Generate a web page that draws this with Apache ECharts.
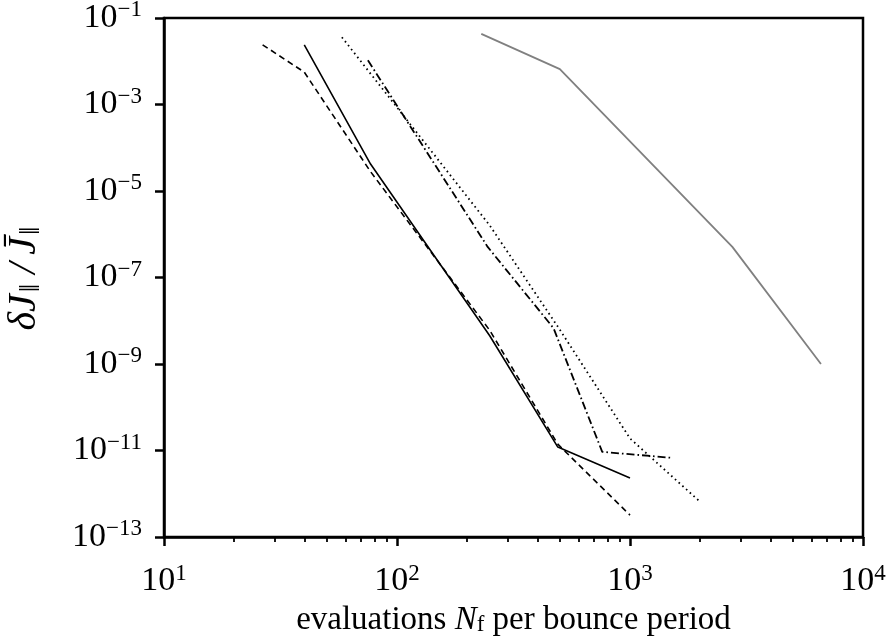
<!DOCTYPE html>
<html>
<head>
<meta charset="utf-8">
<script src="https://cdn.jsdelivr.net/npm/echarts@6/dist/echarts.min.js"></script>
<style>
	html,body{margin:0;padding:0;background:#fff;}
	#chart{width:886px;height:643px;}
</style>
</head>
<body>
<div id="chart"></div>
<script>
	// data (x = evaluations, y = relative error)
	const solidX = [40, 77, 250, 490, 1000];
	const solidY = [2.4e-2, 4.2e-5, 4.5e-9, 1.2e-11, 2.3e-12];
	const dashedX = [26.5, 40, 77, 250, 490, 1000];
	const dashedY = [2.4e-2, 5.6e-3, 2.8e-5, 6e-9, 1.4e-11, 3.2e-13];
	const dashDotX = [75, 245, 470, 760, 1500];
	const dashDotY = [1.05e-2, 5.1e-7, 6.7e-9, 9.3e-12, 6.8e-12];
	const dottedX = [58, 250, 500, 1000, 2000];
	const dottedY = [3.6e-2, 1.6e-6, 6.2e-9, 1.9e-11, 6.5e-13];
	const grayX = [230, 500, 2750, 6600];
	const grayY = [4.3e-2, 6.6e-3, 5.1e-7, 1.0e-9];
	const xMinorTicks = [20,30,40,50,60,70,80,90,200,300,400,500,600,700,800,900,2000,3000,4000,5000,6000,7000,8000,9000];

	const font = '"Liberation Serif", "DejaVu Serif", serif';

	const pairs = (xs, ys) => xs.map((x, i) => [x, ys[i]]);

	// 10^n tick labels with a raised exponent
	const powLabel = function(value) {
		let e = Math.round(Math.log10(value));
		let s = e < 0 ? '\u2212' + (-e) : '' + e;
		return '{b|10}{s|' + s + '}';
	};
	const labelRich = {
		b: {fontFamily: font, fontSize: 34, color: '#000'},
		s: {fontFamily: font, fontSize: 23, color: '#000', verticalAlign: 'top', padding: [0, 0, 16, 0]}
	};

	const mk = (name, xs, ys, color, type, width) => ({
		name: name,
		type: 'line',
		data: pairs(xs, ys),
		showSymbol: false,
		symbol: 'none',
		lineStyle: {color: color, type: type, width: width},
		animation: false
	});

	const myChart = echarts.init(document.getElementById('chart'));
	const option = {
		backgroundColor: '#fff',
		animation: false,
		grid: {
			left: 164, right: 23, top: 18, bottom: 106,
			outerBoundsMode: 'none', containLabel: false,
			show: true, borderColor: '#000', borderWidth: 2.5, backgroundColor: 'transparent'
		},
		xAxis: [{
			type: 'log', logBase: 10, min: 10, max: 10000,
			name: '{t|evaluations }{i|N}{sub|f}{t| per bounce period}',
			nameLocation: 'middle', nameGap: 64,
			nameTextStyle: {
				rich: {
					t: {fontFamily: font, fontSize: 33, color: '#000'},
					i: {fontFamily: font, fontSize: 33, fontStyle: 'italic', color: '#000'},
					sub: {fontFamily: font, fontSize: 23, color: '#000', verticalAlign: 'bottom', padding: [10, 0, 0, 0]}
				}
			},
			axisLine: {show: true, lineStyle: {color: '#000', width: 2.5}},
			axisTick: {show: true, inside: false, length: 9, lineStyle: {color: '#000', width: 2.5}},
			axisLabel: {margin: 25, formatter: powLabel, rich: labelRich},
			splitLine: {show: false}
		}, {
			type: 'log', logBase: 10, min: 10, max: 10000,
			position: 'bottom',
			axisLine: {show: false},
			axisTick: {show: true, inside: false, length: 5, customValues: xMinorTicks, lineStyle: {color: '#000', width: 1.8}},
			axisLabel: {show: false},
			splitLine: {show: false}
		}],
		yAxis: [{
			type: 'log', logBase: 10, min: 1e-13, max: 1e-1, interval: 2,
			name: '{i|\u03B4J}{sub|\u2016}{i|\u2009/\u2009J\u0304}{sub|\u2016}',
			nameLocation: 'middle', nameGap: 118, nameRotate: 90,
			nameTextStyle: {
				rich: {
					i: {fontFamily: font, fontSize: 40, fontStyle: 'italic', color: '#000'},
					sub: {fontFamily: font, fontSize: 30, color: '#000', verticalAlign: 'bottom', padding: [14, 2, 0, 2]}
				}
			},
			axisLine: {show: true, lineStyle: {color: '#000', width: 2.5}},
			axisTick: {show: true, inside: false, length: 9, lineStyle: {color: '#000', width: 2.5}},
			axisLabel: {margin: 22, formatter: powLabel, rich: labelRich},
			splitLine: {show: false}
		}],
		series: [
			mk('gray', grayX, grayY, '#808080', 'solid', 1.8),
			mk('dotted', dottedX, dottedY, '#000', [1.6, 3.4], 1.8),
			mk('dashdot', dashDotX, dashDotY, '#000', [8, 3, 1.6, 3], 1.8),
			mk('dashed', dashedX, dashedY, '#000', [6, 4], 1.6),
			mk('solid', solidX, solidY, '#000', 'solid', 1.6)
		]
	};
	myChart.setOption(option);
</script>
</body>
</html>
